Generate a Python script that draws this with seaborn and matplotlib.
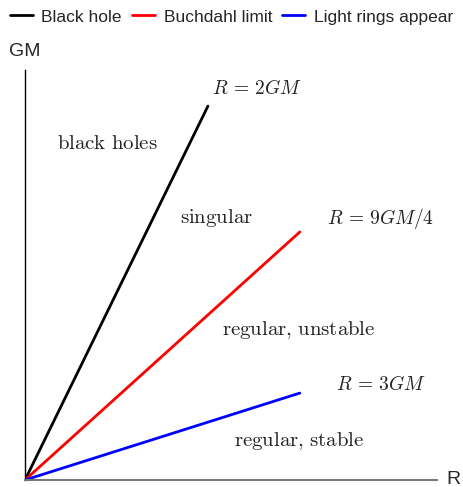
import matplotlib
matplotlib.use("Agg")
import matplotlib.pyplot as plt
import seaborn as sns
import pandas as pd

# lines start at the origin, end points (arbitrary units)
names = ["Black hole", "Buchdahl limit", "Light rings appear"]
end_r = [4.44, 6.67, 6.67]
end_gm = [9.12, 6.05, 2.12]
colors = ["black", "red", "blue"]

rows = []
for n, r, g in zip(names, end_r, end_gm):
    rows.append({"line": n, "R": 0.0, "GM": 0.0})
    rows.append({"line": n, "R": r, "GM": g})
df = pd.DataFrame(rows)

# region / curve annotations
labels = [r"$R\,=\,2GM$", r"$\mathrm{black\ holes}$", r"$\mathrm{singular}$",
          r"$R\,=\,9GM/4$", r"$\mathrm{regular{,}\ unstable}$", r"$R\,=\,3GM$",
          r"$\mathrm{regular{,}\ stable}$"]
label_x = [5.63, 2.01, 4.64, 8.62, 6.65, 8.64, 6.65]
label_y = [9.56, 8.20, 6.39, 6.39, 3.66, 2.32, 0.95]

sns.set_style("white")
plt.rcParams["font.family"] = ["Liberation Sans", "DejaVu Sans"]
plt.rcParams["mathtext.fontset"] = "cm"

fig = plt.figure(figsize=(4.63, 4.87), dpi=100)
ax = fig.add_axes([25 / 463, 7 / 487, 412 / 463, 410 / 487])

sns.lineplot(data=df, x="R", y="GM", hue="line", palette=colors,
             linewidth=2, ax=ax, sort=False)

for t, x, y in zip(labels, label_x, label_y):
    size = 14 if t.startswith("$R") else 15
    ax.text(x, y, t, ha="center", va="center", fontsize=size, color="#222222")

ax.set_xlim(0, 10)
ax.set_ylim(0, 10)
ax.set_xticks([])
ax.set_yticks([])
ax.set_xlabel("")
ax.set_ylabel("")
ax.spines["top"].set_visible(False)
ax.spines["right"].set_visible(False)
ax.spines["left"].set_color("black")
ax.spines["left"].set_linewidth(1)
ax.spines["bottom"].set_color("#777777")
ax.spines["bottom"].set_linewidth(1.5)

fig.text(25 / 463, 1 - 52 / 487, "GM", ha="center", va="center", fontsize=14)
fig.text(453 / 463, 1 - 480 / 487, "R", ha="center", va="center", fontsize=14)

sns.move_legend(ax, "center", bbox_to_anchor=(0.5, 1 - 17 / 487),
                bbox_transform=fig.transFigure, ncol=3, frameon=False,
                title=None, fontsize=12.5, handlelength=1.3,
                handletextpad=0.5, columnspacing=0.6)

fig.savefig("out.png", dpi=100)
